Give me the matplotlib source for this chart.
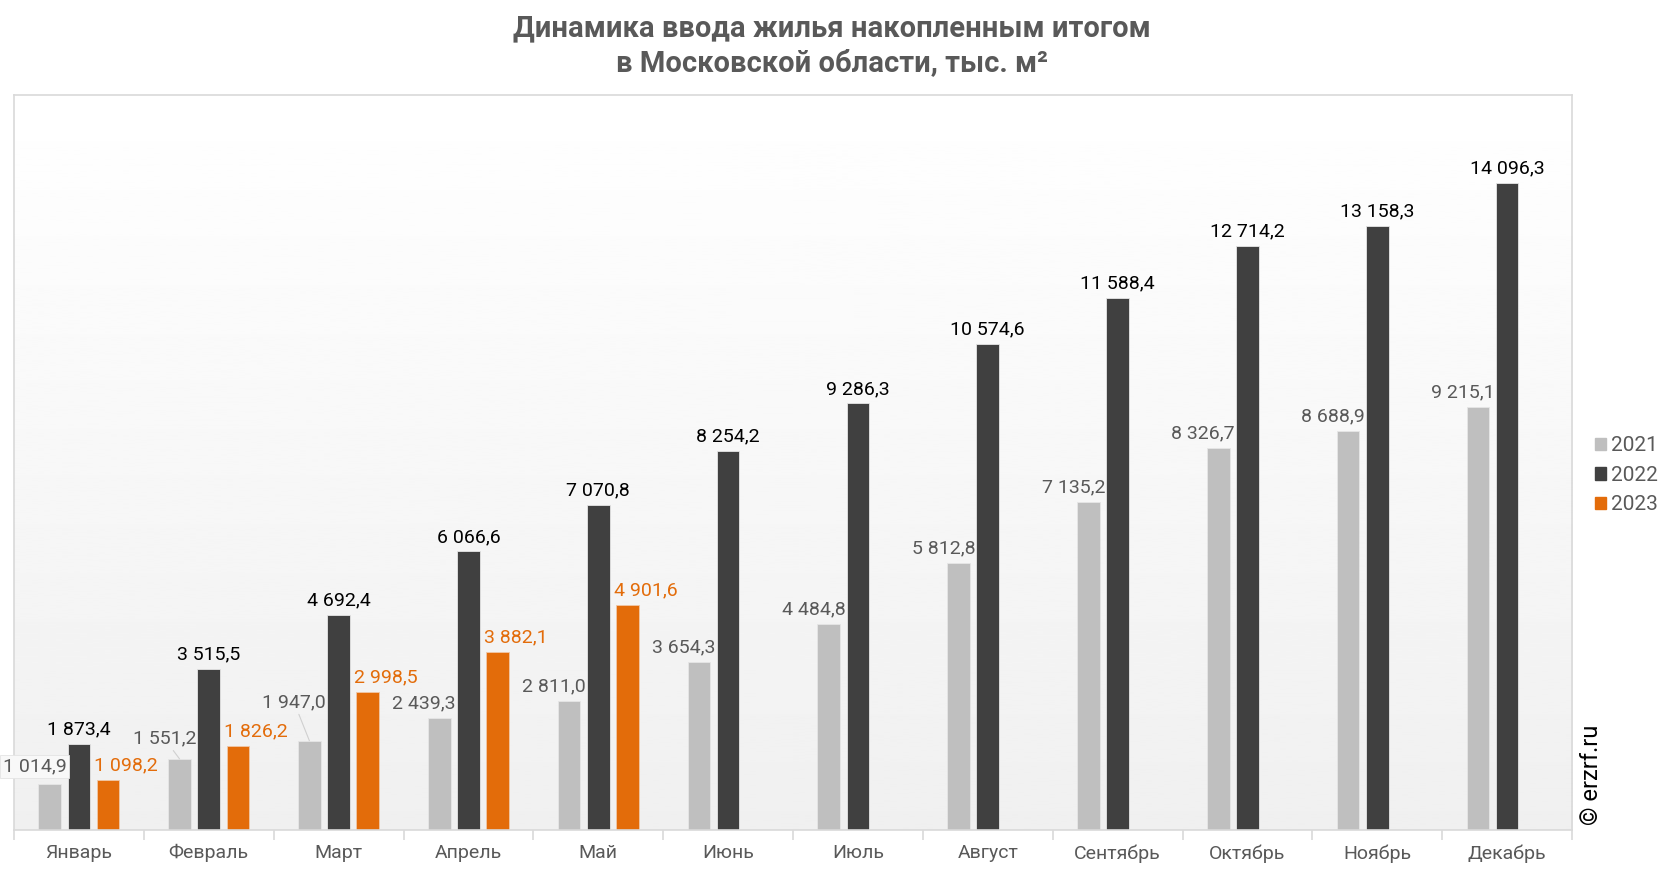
import numpy as np
import matplotlib.pyplot as plt
from matplotlib.patches import Patch

plt.rcParams['font.family'] = ['Roboto', 'DejaVu Sans']

# Данные
months = ['Январь', 'Февраль', 'Март', 'Апрель', 'Май', 'Июнь',
          'Июль', 'Август', 'Сентябрь', 'Октябрь', 'Ноябрь', 'Декабрь']
y2021 = [1014.9, 1551.2, 1947.0, 2439.3, 2811.0, 3654.3,
         4484.8, 5812.8, 7135.2, 8326.7, 8688.9, 9215.1]
y2022 = [1873.4, 3515.5, 4692.4, 6066.6, 7070.8, 8254.2,
         9286.3, 10574.6, 11588.4, 12714.2, 13158.3, 14096.3]
y2023 = [1098.2, 1826.2, 2998.5, 3882.1, 4901.6]
years = ['2021', '2022', '2023']

c21, c22, c23 = '#bfbfbf', '#404040', '#e36c0a'


def fmt(v):
    # 1234.5 -> "1 234,5"
    return f'{v:,.1f}'.replace(',', ' ').replace('.', ',')


fig = plt.figure(figsize=(16.66, 8.72), dpi=100)
ax = fig.add_axes([0.0084, 0.048, 0.9352, 0.843])

x = np.arange(len(months))
w = 0.175
d = 0.225

# фон с градиентом
grad = np.linspace(1.0, 0.94, 256).reshape(-1, 1)
ax.imshow(grad, cmap='gray', vmin=0, vmax=1, aspect='auto',
          extent=(-0.5, 11.5, 0, 16000), zorder=0)

ax.bar(x - d, y2021, w, color=c21, edgecolor='#e6e6e6', linewidth=0.6, zorder=2)
ax.bar(x, y2022, w, color=c22, edgecolor='#e6e6e6', linewidth=0.6, zorder=2)
ax.bar(x[:len(y2023)] + d, y2023, w, color=c23, edgecolor='#f0c8a8', linewidth=0.6, zorder=2)

ax.set_xlim(-0.5, 11.5)
ax.set_ylim(0, 16000)

fs = 14

# подписи 2021 (сдвинуты влево, у некоторых выноски)
extra = {0: 2, 1: 4, 2: 17}
for i, v in enumerate(y2021):
    kw = {}
    if i in (1, 2):
        kw['arrowprops'] = dict(arrowstyle='-', color='#d0d0d0', lw=0.8,
                                shrinkA=0, shrinkB=0)
    if i == 0:
        kw['bbox'] = dict(boxstyle='square,pad=0.12', fc='#f8f8f8', ec='#e4e4e4', lw=0.6)
    ax.annotate(fmt(v), xy=(x[i] - d, v),
                xytext=(12, 4 + extra.get(i, 0)), textcoords='offset points',
                ha='right', va='bottom', fontsize=fs, color='#595959', zorder=4, **kw)

for i, v in enumerate(y2022):
    ax.annotate(fmt(v), xy=(x[i], v), xytext=(0, 4), textcoords='offset points',
                ha='center', va='bottom', fontsize=fs, color='#000000', zorder=4)

for i, v in enumerate(y2023):
    ax.annotate(fmt(v), xy=(x[i] + d, v), xytext=(-10, 4), textcoords='offset points',
                ha='left', va='bottom', fontsize=fs, color=c23, zorder=4)

# оси
for s in ax.spines.values():
    s.set_color('#d9d9d9')
    s.set_linewidth(1.2)
ax.set_yticks([])
ax.set_xticks(x)
ax.set_xticklabels(months, fontsize=fs, color='#595959')
ax.tick_params(axis='x', length=0, pad=10)
ax.set_xticks(np.arange(-0.5, 12, 1), minor=True)
ax.tick_params(axis='x', which='minor', length=7, color='#d9d9d9', width=1.2)

fig.text(0.4995, 0.948, 'Динамика ввода жилья накопленным итогом\nв Московской области, тыс. м²',
         ha='center', va='center', fontsize=21, fontweight='bold', color='#595959',
         linespacing=1.3)

handles = [Patch(color=c) for c in (c21, c22, c23)]
fig.legend(handles, years, loc='center left', bbox_to_anchor=(0.946, 0.455),
           frameon=False, fontsize=15, handlelength=0.55, handleheight=0.55,
           handletextpad=0.25, labelspacing=0.5, labelcolor='#595959')

fig.text(0.9485, 0.054, '© erzrf.ru', rotation=90, ha='left', va='bottom',
         fontsize=17, color='#000000')

fig.savefig('out.png', dpi=100)
